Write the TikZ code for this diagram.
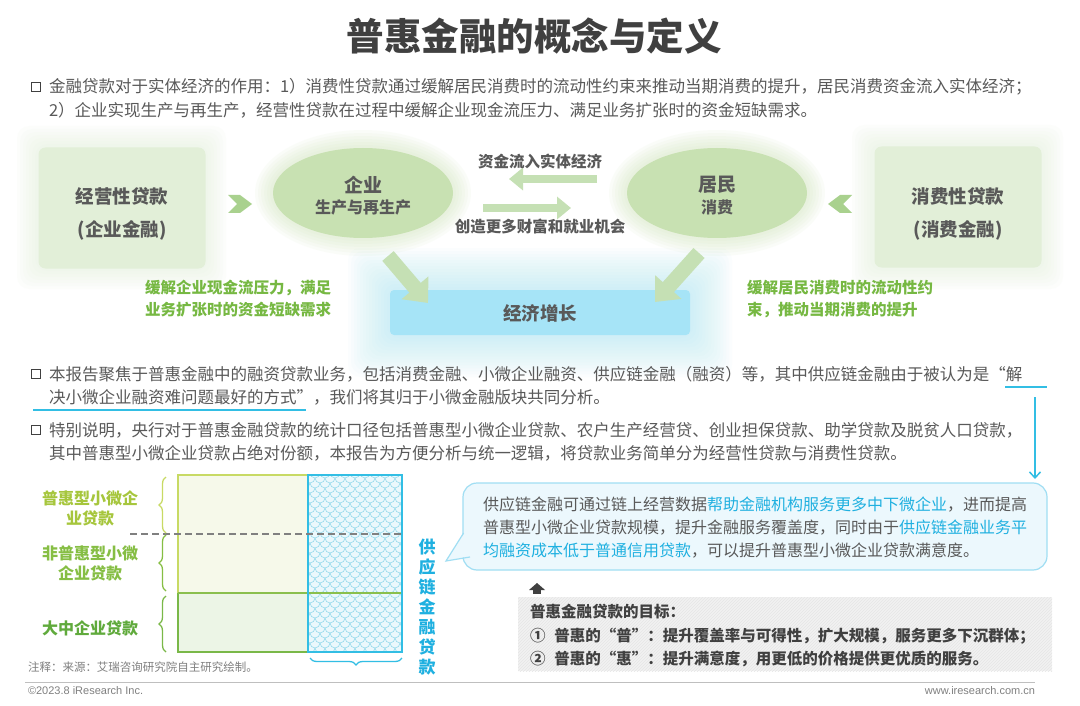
\documentclass[tikz,border=0pt]{standalone}
\usepackage{fontspec}
\setmainfont{Noto Sans CJK SC}
\newfontfamily\lat{Liberation Sans}
\usetikzlibrary{arrows.meta,decorations.pathreplacing,patterns,shapes.geometric,calc}
\definecolor{txt}{RGB}{89,89,89}
\definecolor{ttl}{RGB}{64,64,64}
\definecolor{boxg}{RGB}{226,239,216}
\definecolor{ellg}{RGB}{200,225,178}
\definecolor{arrg}{RGB}{197,224,180}
\definecolor{chev}{RGB}{169,209,142}
\definecolor{gtxt}{RGB}{118,184,66}
\definecolor{blu}{RGB}{166,228,247}
\definecolor{cyanl}{RGB}{50,190,228}
\definecolor{cyant}{RGB}{31,176,224}
\definecolor{lab1}{RGB}{166,198,60}
\definecolor{lab2}{RGB}{134,190,68}
\definecolor{lab3}{RGB}{96,170,60}
\definecolor{bubf}{RGB}{236,248,253}
\definecolor{bubd}{RGB}{160,222,243}
\definecolor{grayf}{RGB}{242,242,242}
\definecolor{notec}{RGB}{128,128,128}
\definecolor{topf}{RGB}{246,249,234}
\definecolor{botf}{RGB}{236,245,230}
\definecolor{topl}{RGB}{200,218,100}
\definecolor{botl}{RGB}{122,184,72}
\definecolor{hatf}{RGB}{235,248,252}
\definecolor{hatl}{RGB}{150,218,236}
\newcommand\fs[2]{\fontsize{#1}{#2}\selectfont}
\newcommand\glowbox[7]{%
  \foreach \k in {1,...,#6}{%
    \fill[#5, opacity=#7, rounded corners=12pt] ({#1-\k*3},{#2-\k*3}) rectangle ({#3+\k*3},{#4+\k*3});}}
\begin{document}
\begin{tikzpicture}[x=1pt,y=-1pt,
  every node/.style={inner sep=0pt, outer sep=0pt},
  body/.style={anchor=west, text=txt, font=\fs{16.5}{19}},
  bubtxt/.style={anchor=west, text=txt, font=\fs{16}{19}},
  bulbox/.style={draw=ttl, line width=1.8pt, minimum width=9pt, minimum height=9pt},
  loanbox/.style={fill=boxg, rounded corners=7pt, minimum width=167pt, minimum height=121pt},
  loantxt/.style={align=center, text=txt, font=\fs{18.5}{33}\bfseries},
  ell/.style={ellipse, fill=ellg, minimum width=180pt, minimum height=90pt},
  bigt/.style={text=txt, font=\fs{19}{22}\bfseries},
  smallt/.style={text=txt, font=\fs{16}{19}\bfseries},
  harr/.style={line width=8pt, draw=arrg, -{Triangle[width=22pt,length=14pt]}},
  darr/.style={line width=15pt, draw=arrg, -{Triangle[width=34pt,length=20pt]}},
  gnote/.style={anchor=west, align=left, text=gtxt, font=\fs{15.5}{22}\bfseries},
  mid/.style={text=txt, font=\fs{15.5}{19}\bfseries},
  lab/.style={align=center, font=\fs{16}{20}\bfseries},
  fishscale/.style={draw=hatl, line width=0.6pt},
  brc/.style={decorate, decoration={brace, amplitude=7pt}, line width=1.3pt},
  goal/.style={anchor=west, text=ttl, font=\fs{15.5}{19}\bfseries},
  foot/.style={text=notec, font=\lat\fs{11}{13}}
]
\useasboundingbox (0,0) rectangle (1080,706);
\fill[white] (0,0) rectangle (1080,706);

% title
\node[text=ttl, font=\fs{37.5}{40}\bfseries] (title) at (534,36) {普惠金融的概念与定义};

% bullet 1
\node[bulbox] (q1) at (36,87) {};
\node[body] (t1a) at (49,87) {金融贷款对于实体经济的作用：1）消费性贷款通过缓解居民消费时的流动性约束来推动当期消费的提升，居民消费资金流入实体经济；};
\node[body] (t1b) at (49,110) {2）企业实现生产与再生产，经营性贷款在过程中缓解企业现金流压力、满足业务扩张时的资金短缺需求。};

% glows
\glowbox{38}{147}{205}{268}{boxg}{7}{0.08}
\glowbox{873}{146}{1042}{268}{boxg}{7}{0.08}
\glowbox{390}{290}{690}{335}{blu}{14}{0.045}
\foreach \k in {1,...,6}{
  \fill[ellg, opacity=0.08] (363,193) ellipse [x radius={90+\k*3}, y radius={45+\k*3}];
  \fill[ellg, opacity=0.08] (717,193) ellipse [x radius={90+\k*3}, y radius={45+\k*3}];
}

% flow boxes
\node[loanbox] (lbox) at (122,208) {};
\node[loantxt] (lboxt) at (122,214) {经营性贷款\\(企业金融)};
\node[loanbox] (rbox) at (958,207) {};
\node[loantxt] (rboxt) at (958,214) {消费性贷款\\(消费金融)};

\node[ell] (ent) at (363,193) {};
\node[bigt] (entA) at (363,185) {企业};
\node[smallt] (entB) at (363,207) {生产与再生产};
\node[ell] (res) at (717,193) {};
\node[bigt] (resA) at (717,185) {居民};
\node[smallt] (resB) at (717,207) {消费};

% chevrons
\fill[chev] (228,195) -- (240,195) -- (252,204) -- (240,213) -- (228,213) -- (237,204) -- cycle;
\fill[chev] (852,195) -- (840,195) -- (828,204) -- (840,213) -- (852,213) -- (843,204) -- cycle;

% horizontal arrows
\coordinate (ha1) at (597,179);
\coordinate (ha2) at (509,179);
\coordinate (hb1) at (483,208);
\coordinate (hb2) at (571,208);
\draw[harr] (ha1) -- (ha2);
\draw[harr] (hb1) -- (hb2);
\node[mid] (mtop) at (540,162) {资金流入实体经济};
\node[mid] (mbot) at (540,227) {创造更多财富和就业机会};

% growth box
\node[fill=blu, rounded corners=4pt, minimum width=300pt, minimum height=45pt] (grow) at (540,312.5) {};
\node[text=txt, font=\fs{18.5}{22}\bfseries] (growt) at (540,313) {经济增长};

% diagonal arrows
\coordinate (da1) at (388,256);
\coordinate (db1) at (699,253);
\coordinate (da2) at (428,303);
\coordinate (db2) at (655,302);
\draw[darr] (da1) -- (da2);
\draw[darr] (db1) -- (db2);

% green notes
\node[gnote] (gl) at (145,299) {缓解企业现金流压力，满足\\业务扩张时的资金短缺需求};
\node[gnote] (gr) at (747,299) {缓解居民消费时的流动性约\\束，推动当期消费的提升};

% bullet 2
\node[bulbox] (q2) at (36,374) {};
\node[body] (t2a) at (49,374) {本报告聚焦于普惠金融中的融资贷款业务，包括消费金融、小微企业融资、供应链金融（融资）等，其中供应链金融由于被认为是“解};
\node[body] (t2b) at (49,397) {决小微企业融资难问题最好的方式”，我们将其归于小微金融版块共同分析。};
\coordinate (ul1) at (33,410);
\coordinate (ul2) at (306,410);
\draw[cyanl, line width=1.8pt] (ul1) -- (ul2);
\coordinate (us1) at (1005,387);
\coordinate (us2) at (1047,387);
\draw[cyanl, line width=1.8pt] (us1) -- (us2);
\coordinate (va1) at (1035,397);
\coordinate (va2) at (1035,479);
\draw[cyanl, line width=1.5pt, -{Straight Barb[length=6pt,width=11pt]}] (va1) -- (va2);

% bullet 3
\node[bulbox] (q3) at (36,430) {};
\node[body] (t3a) at (49,430) {特别说明，央行对于普惠金融贷款的统计口径包括普惠型小微企业贷款、农户生产经营贷、创业担保贷款、助学贷款及脱贫人口贷款，};
\node[body] (t3b) at (49,453) {其中普惠型小微企业贷款占绝对份额，本报告为方便分析与统一逻辑，将贷款业务简单分为经营性贷款与消费性贷款。};

% chart
\fill[topf] (178,475) rectangle (308,593);
\fill[botf] (178,593) rectangle (308,652);
\fill[hatf] (308,475) rectangle (402,652);
\begin{scope}
\clip (308,475) rectangle (402,652);
\foreach \j in {0,...,37}{
  \pgfmathsetmacro\yy{473+\j*5}
  \pgfmathsetmacro\off{mod(\j,2)*5}
  \foreach \i in {0,...,10}{
    \draw[fishscale] ({300+\off+\i*10},\yy) arc[start angle=180, end angle=360, radius=5pt];
  }
}
\end{scope}
\draw[topl, line width=1.5pt] (308,475) -- (178,475) -- (178,593);
\draw[botl, line width=1.5pt] (178,593) -- (178,652) -- (308,652);
\draw[botl!80!topl, line width=1.8pt] (178,593) -- (402,593);
\draw[cyanl, line width=2pt] (308,475) rectangle (402,652);
\draw[notec, line width=1.3pt, dash pattern=on 7pt off 4pt] (130,534) -- (402,534);

\draw[brc, topl] (166,533) -- (166,477);
\draw[brc, lab2] (166,591) -- (166,535);
\draw[brc, botl] (166,652) -- (166,596);
\draw[brc, cyanl] (402,658) -- (310,658);

\node[lab, text=lab1] (l1) at (90,508) {普惠型小微企\\业贷款};
\node[lab, text=lab2] (l2) at (90,563.5) {非普惠型小微\\企业贷款};
\node[lab, text=lab3] (l3) at (90,628) {大中企业贷款};
\node[align=center, text=cyant, font=\fs{17}{20}\bfseries] (vt) at (427,607) {供\\应\\链\\金\\融\\贷\\款};
\node[anchor=west, text=notec, font=\fs{11.5}{14}] (note) at (28,667) {注释：来源：艾瑞咨询研究院自主研究绘制。};

% bubble
\draw[bubd, fill=bubf, line width=1.2pt, rounded corners=14pt] (463,483) rectangle (1047,570);
\fill[bubf] (464.5,533) -- (446,561) -- (470,556) -- cycle;
\draw[bubd, line width=1.2pt] (463.6,533) -- (446,561) -- (470,557);
\node[bubtxt] (bb1) at (483,505) {供应链金融可通过链上经营数据\textcolor{cyant}{帮助金融机构服务更多中下微企业}，进而提高};
\node[bubtxt] (bb2) at (483,528) {普惠型小微企业贷款规模，提升金融服务覆盖度，同时由于\textcolor{cyant}{供应链金融业务平}};
\node[bubtxt] (bb3) at (483,551) {\textcolor{cyant}{均融资成本低于普通信用贷款}，可以提升普惠型小微企业贷款满意度。};

% goals box
\fill[ttl] (529,590) -- (537,583) -- (545,590) -- cycle;
\fill[ttl] (533,590) rectangle (541,594);
\fill[grayf] (518,597) rectangle (1052,671);
\fill[pattern=north east lines, pattern color=black!10] (518,597) rectangle (1052,671);
\node[goal] (g0) at (530,612) {普惠金融贷款的目标：};
\node[goal] (g1) at (530,636) {①\hspace{9pt}普惠的“普”：提升覆盖率与可得性，扩大规模，服务更多下沉群体；};
\node[goal] (g2) at (530,659) {②\hspace{9pt}普惠的“惠”：提升满意度，用更低的价格提供更优质的服务。};

% footer
\coordinate (fl1) at (25,682);
\coordinate (fl2) at (1035,682);
\draw[black!25, line width=1pt] (fl1) -- (fl2);
\node[foot, anchor=west] (f1) at (28,691) {©2023.8 iResearch Inc.};
\node[foot, anchor=east] (f2) at (1035,691) {www.iresearch.com.cn};
\end{tikzpicture}
\end{document}
